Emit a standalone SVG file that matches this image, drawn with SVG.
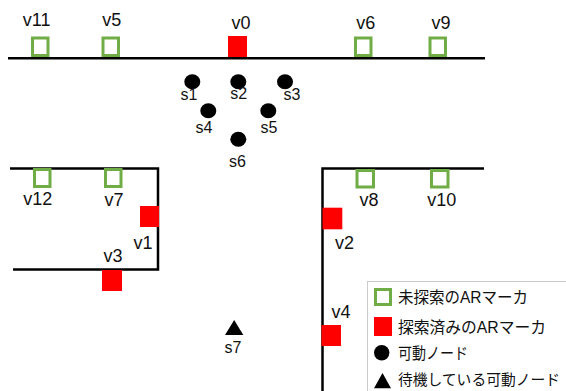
<svg xmlns="http://www.w3.org/2000/svg" width="566" height="391" viewBox="0 0 566 391">
<style>
.wall{fill:none;stroke:#000;stroke-width:2.5}
.unx{fill:#fff;stroke:#70AD47;stroke-width:3}
.exp{fill:#FF0000;stroke:none}
.node{fill:#000}
.lbl{font-family:"Liberation Sans",Arial,sans-serif;font-size:18px;fill:#111;text-anchor:middle}
.sl{font-family:"Liberation Sans",Arial,sans-serif;font-size:16px;fill:#111;text-anchor:middle}
.lg{font-family:"Liberation Sans","Noto Sans CJK JP",sans-serif;font-size:16px;fill:#111}
</style>
<rect width="566" height="391" fill="#fff"/>
<g id="connectors">
<line class="wall" x1="8" y1="58.3" x2="485" y2="58.3"/>
<polyline class="wall" points="10,168.5 158,168.5 158,269.5 13,269.5"/>
<polyline class="wall" points="484,168.5 322.5,168.5 322.5,391"/>
</g>
<g id="v11"><rect class="unx" x="32.5" y="38" width="15.5" height="17.5"/><text class="lbl" x="36.7" y="26">v11</text></g>
<g id="v5"><rect class="unx" x="103" y="38" width="15.5" height="17.5"/><text class="lbl" x="111.7" y="26">v5</text></g>
<g id="v0"><rect class="exp" x="228" y="36" width="19" height="21"/><text class="lbl" x="241" y="29">v0</text></g>
<g id="v6"><rect class="unx" x="355.5" y="38" width="15.5" height="17.5"/><text class="lbl" x="365.7" y="29">v6</text></g>
<g id="v9"><rect class="unx" x="430" y="38" width="15.5" height="17.5"/><text class="lbl" x="441" y="29">v9</text></g>
<g id="v12"><rect class="unx" x="34.5" y="169.5" width="15.5" height="17"/><text class="lbl" x="37.7" y="205">v12</text></g>
<g id="v7"><rect class="unx" x="105.5" y="169.5" width="15.5" height="17"/><text class="lbl" x="114" y="206">v7</text></g>
<g id="v1"><rect class="exp" x="140" y="206" width="19" height="21"/><text class="lbl" x="143" y="249">v1</text></g>
<g id="v3"><rect class="exp" x="102" y="270" width="20" height="21"/><text class="lbl" x="113" y="261.5">v3</text></g>
<g id="v8"><rect class="unx" x="357" y="170.5" width="16.5" height="16.5"/><text class="lbl" x="369" y="206">v8</text></g>
<g id="v10"><rect class="unx" x="431.5" y="170.5" width="16.5" height="16.5"/><text class="lbl" x="441.7" y="206">v10</text></g>
<g id="v2"><rect class="exp" x="322.5" y="207.7" width="19.8" height="21.6"/><text class="lbl" x="344.5" y="249">v2</text></g>
<g id="v4"><rect class="exp" x="321.5" y="325" width="19.5" height="21"/><text class="lbl" x="341" y="318">v4</text></g>
<g id="s1"><ellipse class="node" cx="192.3" cy="81.7" rx="8" ry="7.5"/><text class="sl" x="189" y="100">s1</text></g>
<g id="s2"><ellipse class="node" cx="238.3" cy="81.7" rx="8" ry="7.5"/><text class="sl" x="238.7" y="99">s2</text></g>
<g id="s3"><ellipse class="node" cx="285" cy="81.7" rx="8" ry="7.5"/><text class="sl" x="292" y="100">s3</text></g>
<g id="s4"><ellipse class="node" cx="208.3" cy="110.7" rx="8" ry="7.5"/><text class="sl" x="204" y="133">s4</text></g>
<g id="s5"><ellipse class="node" cx="268.3" cy="110.7" rx="8" ry="7.5"/><text class="sl" x="269" y="132.5">s5</text></g>
<g id="s6"><ellipse class="node" cx="238.3" cy="139.3" rx="8" ry="7.5"/><text class="sl" x="237.5" y="167">s6</text></g>
<g id="s7"><polygon class="node" points="234.2,320 243.3,335 225,335"/><text class="sl" x="233" y="353">s7</text></g>
<g id="legend">
<rect x="367.5" y="281.5" width="220" height="130" fill="none" stroke="#999" stroke-width="1" stroke-dasharray="1,1"/>
<rect class="unx" x="375.5" y="289.5" width="15" height="15"/>
<text class="lg" x="398" y="303" textLength="130" lengthAdjust="spacingAndGlyphs">未探索のARマーカ</text>
<rect class="exp" x="374" y="317" width="18" height="19"/>
<text class="lg" x="398" y="333" textLength="148" lengthAdjust="spacingAndGlyphs">探索済みのARマーカ</text>
<ellipse class="node" cx="381.7" cy="352.7" rx="7.7" ry="7.7"/>
<text class="lg" x="398" y="359" textLength="70" lengthAdjust="spacingAndGlyphs">可動ノード</text>
<polygon class="node" points="382.5,373 391,388.3 374,388.3"/>
<text class="lg" x="398" y="385" style="font-size:15px" textLength="162" lengthAdjust="spacingAndGlyphs">待機している可動ノード</text>
</g>
</svg>
